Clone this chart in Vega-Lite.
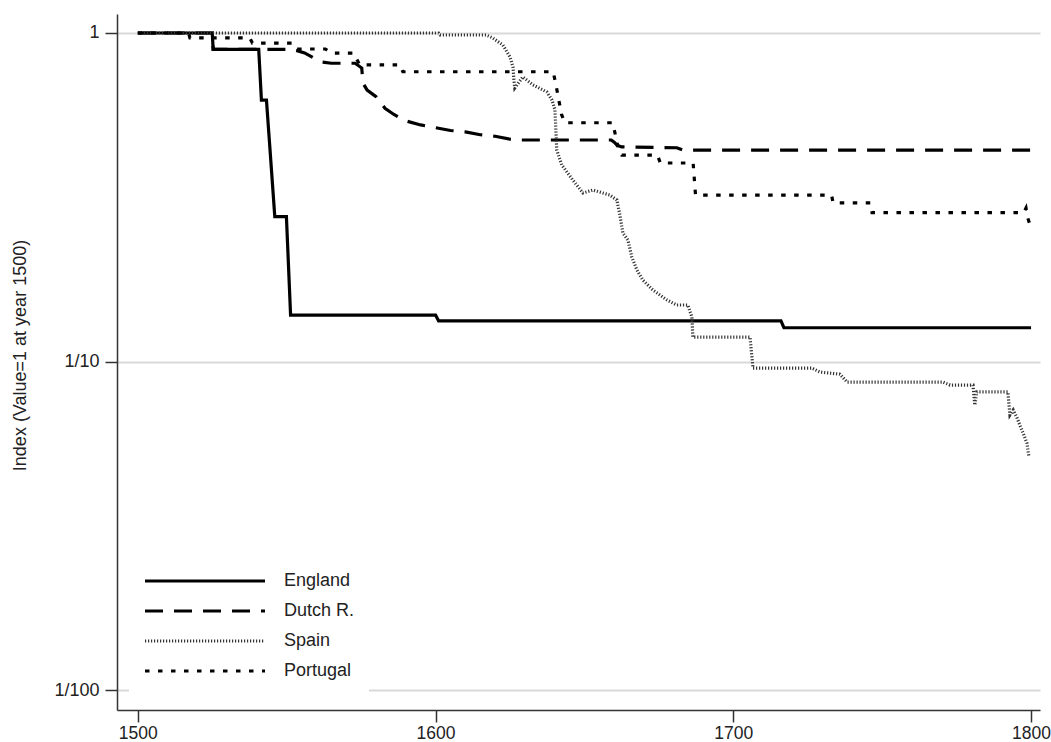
{
  "$schema": "https://vega.github.io/schema/vega-lite/v6.json",
  "width": 923,
  "height": 696,
  "autosize": {"type": "none"},
  "padding": {"left": 117, "top": 14, "right": 11, "bottom": 32},
  "background": "white",
  "config": {
    "view": {"stroke": null},
    "font": "Liberation Sans",
    "axis": {
      "labelFont": "Liberation Sans",
      "titleFont": "Liberation Sans",
      "labelFontSize": 18,
      "labelColor": "#222",
      "titleColor": "#222",
      "titleFontWeight": "normal",
      "domainColor": "#333",
      "domainWidth": 1.5,
      "tickColor": "#333",
      "tickWidth": 1.5,
      "tickSize": 12,
      "labelFlush": false,
      "labelOverlap": false
    },
    "legend": {
      "labelFont": "Liberation Sans",
      "labelFontSize": 18,
      "labelColor": "#222"
    }
  },
  "data": {
    "values": [
      {"country": "England", "year": 1500, "value": 1},
      {"country": "England", "year": 1525, "value": 1},
      {"country": "England", "year": 1525.3, "value": 0.892},
      {"country": "England", "year": 1540.6, "value": 0.892},
      {"country": "England", "year": 1541.5, "value": 0.625},
      {"country": "England", "year": 1543.2, "value": 0.625},
      {"country": "England", "year": 1546, "value": 0.276},
      {"country": "England", "year": 1549.9, "value": 0.276},
      {"country": "England", "year": 1551.3, "value": 0.1385},
      {"country": "England", "year": 1600, "value": 0.1385},
      {"country": "England", "year": 1601, "value": 0.133},
      {"country": "England", "year": 1716, "value": 0.133},
      {"country": "England", "year": 1717, "value": 0.1267},
      {"country": "England", "year": 1800, "value": 0.1267},

      {"country": "Dutch R.", "year": 1500, "value": 1},
      {"country": "Dutch R.", "year": 1525, "value": 1},
      {"country": "Dutch R.", "year": 1525.3, "value": 0.892},
      {"country": "Dutch R.", "year": 1552, "value": 0.892},
      {"country": "Dutch R.", "year": 1556, "value": 0.87},
      {"country": "Dutch R.", "year": 1559, "value": 0.84},
      {"country": "Dutch R.", "year": 1562, "value": 0.815},
      {"country": "Dutch R.", "year": 1565, "value": 0.809},
      {"country": "Dutch R.", "year": 1573, "value": 0.809},
      {"country": "Dutch R.", "year": 1575.2, "value": 0.782},
      {"country": "Dutch R.", "year": 1575.6, "value": 0.704},
      {"country": "Dutch R.", "year": 1577, "value": 0.67},
      {"country": "Dutch R.", "year": 1580, "value": 0.64},
      {"country": "Dutch R.", "year": 1583, "value": 0.59},
      {"country": "Dutch R.", "year": 1586, "value": 0.565},
      {"country": "Dutch R.", "year": 1590, "value": 0.54},
      {"country": "Dutch R.", "year": 1595, "value": 0.525},
      {"country": "Dutch R.", "year": 1600, "value": 0.515},
      {"country": "Dutch R.", "year": 1605, "value": 0.505},
      {"country": "Dutch R.", "year": 1610, "value": 0.5},
      {"country": "Dutch R.", "year": 1615, "value": 0.49},
      {"country": "Dutch R.", "year": 1620, "value": 0.485},
      {"country": "Dutch R.", "year": 1625, "value": 0.475},
      {"country": "Dutch R.", "year": 1628, "value": 0.4723},
      {"country": "Dutch R.", "year": 1659, "value": 0.4723},
      {"country": "Dutch R.", "year": 1660, "value": 0.465},
      {"country": "Dutch R.", "year": 1661, "value": 0.455},
      {"country": "Dutch R.", "year": 1662.5, "value": 0.45},
      {"country": "Dutch R.", "year": 1681, "value": 0.4474},
      {"country": "Dutch R.", "year": 1683, "value": 0.4403},
      {"country": "Dutch R.", "year": 1800, "value": 0.4403},

      {"country": "Spain", "year": 1500, "value": 1},
      {"country": "Spain", "year": 1601, "value": 1},
      {"country": "Spain", "year": 1601.5, "value": 0.986},
      {"country": "Spain", "year": 1617, "value": 0.986},
      {"country": "Spain", "year": 1619.2, "value": 0.966},
      {"country": "Spain", "year": 1622.6, "value": 0.919},
      {"country": "Spain", "year": 1625, "value": 0.845},
      {"country": "Spain", "year": 1626, "value": 0.788},
      {"country": "Spain", "year": 1626.3, "value": 0.72},
      {"country": "Spain", "year": 1626.6, "value": 0.68},
      {"country": "Spain", "year": 1629.3, "value": 0.735},
      {"country": "Spain", "year": 1632.7, "value": 0.695},
      {"country": "Spain", "year": 1637.4, "value": 0.661},
      {"country": "Spain", "year": 1639.1, "value": 0.625},
      {"country": "Spain", "year": 1640.1, "value": 0.583},
      {"country": "Spain", "year": 1640.4, "value": 0.507},
      {"country": "Spain", "year": 1640.7, "value": 0.44},
      {"country": "Spain", "year": 1642.4, "value": 0.3964},
      {"country": "Spain", "year": 1646.1, "value": 0.3568},
      {"country": "Spain", "year": 1649.5, "value": 0.3258},
      {"country": "Spain", "year": 1652.8, "value": 0.3327},
      {"country": "Spain", "year": 1658.5, "value": 0.3212},
      {"country": "Spain", "year": 1660.9, "value": 0.3101},
      {"country": "Spain", "year": 1661.9, "value": 0.2792},
      {"country": "Spain", "year": 1662.9, "value": 0.246},
      {"country": "Spain", "year": 1664.6, "value": 0.2344},
      {"country": "Spain", "year": 1665.9, "value": 0.208},
      {"country": "Spain", "year": 1667.6, "value": 0.19},
      {"country": "Spain", "year": 1669.6, "value": 0.177},
      {"country": "Spain", "year": 1673, "value": 0.165},
      {"country": "Spain", "year": 1677.7, "value": 0.1539},
      {"country": "Spain", "year": 1681, "value": 0.1486},
      {"country": "Spain", "year": 1684.7, "value": 0.1486},
      {"country": "Spain", "year": 1686.1, "value": 0.1366},
      {"country": "Spain", "year": 1686.4, "value": 0.1187},
      {"country": "Spain", "year": 1705.6, "value": 0.1187},
      {"country": "Spain", "year": 1706.6, "value": 0.0955},
      {"country": "Spain", "year": 1726.4, "value": 0.0955},
      {"country": "Spain", "year": 1729.1, "value": 0.0929},
      {"country": "Spain", "year": 1735.8, "value": 0.0915},
      {"country": "Spain", "year": 1738.2, "value": 0.0866},
      {"country": "Spain", "year": 1770.4, "value": 0.0866},
      {"country": "Spain", "year": 1772.8, "value": 0.0848},
      {"country": "Spain", "year": 1780.5, "value": 0.0848},
      {"country": "Spain", "year": 1781.1, "value": 0.0737},
      {"country": "Spain", "year": 1781.8, "value": 0.0808},
      {"country": "Spain", "year": 1792.2, "value": 0.0808},
      {"country": "Spain", "year": 1792.9, "value": 0.0687},
      {"country": "Spain", "year": 1794, "value": 0.0712},
      {"country": "Spain", "year": 1795.3, "value": 0.0673},
      {"country": "Spain", "year": 1796.9, "value": 0.0619},
      {"country": "Spain", "year": 1798.6, "value": 0.0565},
      {"country": "Spain", "year": 1799.3, "value": 0.0512},

      {"country": "Portugal", "year": 1500, "value": 1},
      {"country": "Portugal", "year": 1517, "value": 1},
      {"country": "Portugal", "year": 1517.5, "value": 0.966},
      {"country": "Portugal", "year": 1537.6, "value": 0.966},
      {"country": "Portugal", "year": 1538.5, "value": 0.932},
      {"country": "Portugal", "year": 1552, "value": 0.932},
      {"country": "Portugal", "year": 1553.5, "value": 0.894},
      {"country": "Portugal", "year": 1563, "value": 0.894},
      {"country": "Portugal", "year": 1565, "value": 0.869},
      {"country": "Portugal", "year": 1572.5, "value": 0.869},
      {"country": "Portugal", "year": 1574.5, "value": 0.8},
      {"country": "Portugal", "year": 1588, "value": 0.8},
      {"country": "Portugal", "year": 1589, "value": 0.762},
      {"country": "Portugal", "year": 1639.5, "value": 0.762},
      {"country": "Portugal", "year": 1640.5, "value": 0.69},
      {"country": "Portugal", "year": 1642.3, "value": 0.565},
      {"country": "Portugal", "year": 1643.4, "value": 0.533},
      {"country": "Portugal", "year": 1659.5, "value": 0.533},
      {"country": "Portugal", "year": 1661.5, "value": 0.44},
      {"country": "Portugal", "year": 1662.5, "value": 0.425},
      {"country": "Portugal", "year": 1674.5, "value": 0.425},
      {"country": "Portugal", "year": 1675.5, "value": 0.402},
      {"country": "Portugal", "year": 1686.5, "value": 0.402},
      {"country": "Portugal", "year": 1687.3, "value": 0.3212},
      {"country": "Portugal", "year": 1733, "value": 0.3212},
      {"country": "Portugal", "year": 1733.5, "value": 0.3042},
      {"country": "Portugal", "year": 1746, "value": 0.3042},
      {"country": "Portugal", "year": 1746.6, "value": 0.2838},
      {"country": "Portugal", "year": 1797.5, "value": 0.2838},
      {"country": "Portugal", "year": 1798.3, "value": 0.2933},
      {"country": "Portugal", "year": 1799, "value": 0.2716},
      {"country": "Portugal", "year": 1800, "value": 0.2549}
    ]
  },
  "mark": {"type": "line", "clip": true, "strokeCap": "butt", "strokeJoin": "miter"},
  "encoding": {
    "x": {
      "field": "year",
      "type": "quantitative",
      "scale": {"domain": [1493, 1803], "nice": false, "zero": false},
      "axis": {
        "title": null,
        "values": [1500, 1600, 1700, 1800],
        "format": "d",
        "grid": false,
        "labelFontSize": 17.5,
        "labelPadding": 2
      }
    },
    "y": {
      "field": "value",
      "type": "quantitative",
      "scale": {"type": "log", "domain": [0.008694, 1.1424], "nice": false},
      "axis": {
        "title": "Index (Value=1 at year 1500)",
        "titleFontSize": 18,
        "titleAngle": -90,
        "titleBaseline": "middle",
        "titleX": -97,
        "titleY": 341,
        "values": [0.01, 0.1, 1],
        "labelExpr": "datum.value >= 0.5 ? '1' : (datum.value >= 0.05 ? '1/10' : '1/100')",
        "labelPadding": 6,
        "grid": true,
        "gridColor": "#d9d9d9",
        "gridWidth": 2
      }
    },
    "color": {
      "field": "country",
      "type": "nominal",
      "scale": {
        "domain": ["England", "Dutch R.", "Spain", "Portugal"],
        "range": ["#000000", "#000000", "#333333", "#000000"]
      },
      "legend": {
        "title": null,
        "orient": "none",
        "legendX": 12,
        "legendY": 543,
        "direction": "vertical",
        "symbolType": "stroke",
        "symbolSize": 14400,
        "clipHeight": 20,
        "rowPadding": 10,
        "labelOffset": 17,
        "padding": 14,
        "fillColor": "white",
        "strokeColor": null
      }
    },
    "strokeDash": {
      "field": "country",
      "type": "nominal",
      "scale": {
        "domain": ["England", "Dutch R.", "Spain", "Portugal"],
        "range": [[1, 0], [18, 11], [1.2, 1.8], [4.5, 8.5]]
      },
      "legend": {
        "title": null,
        "orient": "none",
        "legendX": 12,
        "legendY": 543,
        "direction": "vertical",
        "symbolType": "stroke",
        "symbolSize": 14400,
        "clipHeight": 20,
        "rowPadding": 10,
        "labelOffset": 17,
        "padding": 14,
        "fillColor": "white",
        "strokeColor": null
      }
    },
    "strokeWidth": {
      "field": "country",
      "type": "nominal",
      "scale": {
        "domain": ["England", "Dutch R.", "Spain", "Portugal"],
        "range": [3.2, 3.2, 2.5, 4]
      },
      "legend": {
        "title": null,
        "orient": "none",
        "legendX": 12,
        "legendY": 543,
        "direction": "vertical",
        "symbolType": "stroke",
        "symbolSize": 14400,
        "clipHeight": 20,
        "rowPadding": 10,
        "labelOffset": 17,
        "padding": 14,
        "fillColor": "white",
        "strokeColor": null
      }
    }
  }
}
